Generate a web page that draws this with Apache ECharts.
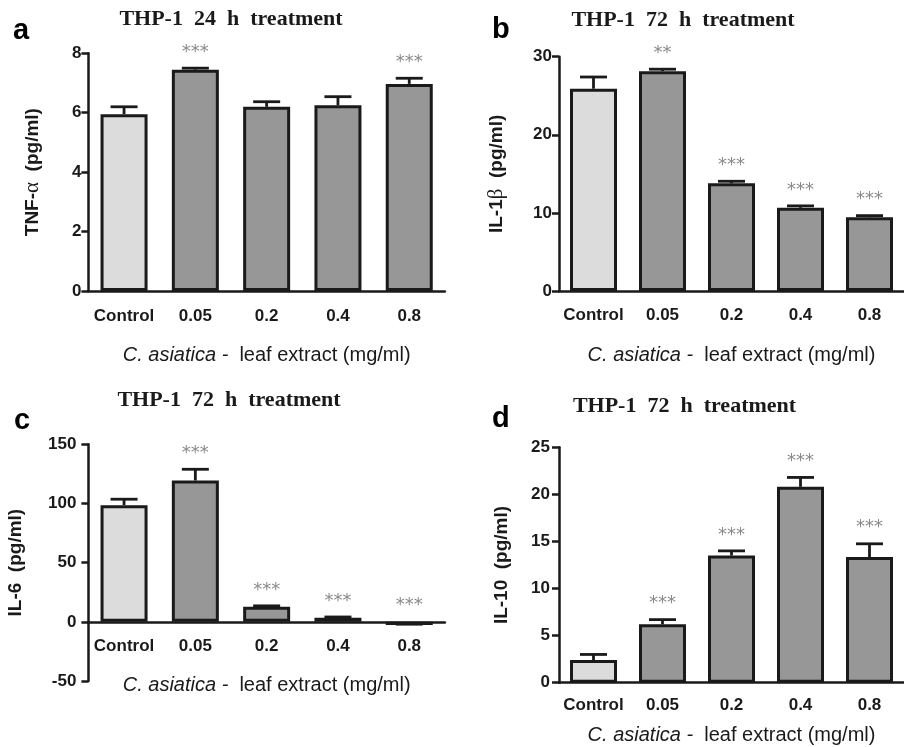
<!DOCTYPE html>
<html>
<head>
<meta charset="utf-8">
<script src="https://cdn.jsdelivr.net/npm/echarts@6/dist/echarts.min.js"></script>
<style>
html,body{margin:0;padding:0;background:#fff;}
#chart{width:904px;height:747px;}
</style>
</head>
<body>
<div id="chart"></div>
<script>
const categories = ['Control', '0.05', '0.2', '0.4', '0.8'];

const tnfMean = [5.95, 7.45, 6.2, 6.25, 6.97];
const tnfErr = [0.25, 0.05, 0.17, 0.29, 0.19];
const tnfStars = ['', '***', '', '', '***'];
const tnfTicks = [0, 2, 4, 6, 8];

const il1bMean = [25.9, 28.15, 13.8, 10.65, 9.45];
const il1bErr = [1.5, 0.25, 0.25, 0.25, 0.2];
const il1bStars = ['', '**', '***', '***', '***'];
const il1bTicks = [0, 10, 20, 30];

const il6Mean = [98.6, 119.4, 12.7, 3.4, -2.6];
const il6Err = [5, 9.5, 0.8, 0.7, 0.6];
const il6Stars = ['', '***', '***', '***', '***'];
const il6Ticks = [-50, 0, 50, 100, 150];

const il10Mean = [2.4, 6.2, 13.5, 20.8, 13.35];
const il10Err = [0.6, 0.5, 0.5, 1.0, 1.4];
const il10Stars = ['', '***', '***', '***', '***'];
const il10Ticks = [0, 5, 10, 15, 20, 25];

const panelTitles = ['THP-1  24  h  treatment', 'THP-1  72  h  treatment', 'THP-1  72  h  treatment', 'THP-1  72  h  treatment'];
const panelLetters = ['a', 'b', 'c', 'd'];

const INK = '#1a1a1a';
const controlColor = '#dcdcdc';
const treatedColor = '#979797';
const H = 747;

const chart = echarts.init(document.getElementById('chart'), null, {renderer: 'canvas'});

const panels = [
  {mean: tnfMean, err: tnfErr, stars: tnfStars, ticks: tnfTicks, yname: [['b','TNF-'],['g','α'],['b','  (pg/ml)']],
   grid: {left: 88.4, right: 459.1, top: 53.3, bottom: 456}, labelMargin: 7, yGap: 45, xGap: 54, xLabMargin: 17},
  {mean: il1bMean, err: il1bErr, stars: il1bStars, ticks: il1bTicks, yname: [['b','IL-1'],['g','β'],['b','  (pg/ml)']],
   grid: {left: 559, right: -9, top: 56.7, bottom: 456}, labelMargin: 7, yGap: 52, xGap: 54, xLabMargin: 16},
  {mean: il6Mean, err: il6Err, stars: il6Stars, ticks: il6Ticks, yname: [['b','IL-6  (pg/ml)']],
   grid: {left: 88.4, right: 459.1, top: 444.3, bottom: 66}, labelMargin: 12, yGap: 63, xGap: 54, xLabMargin: 16},
  {mean: il10Mean, err: il10Err, stars: il10Stars, ticks: il10Ticks, yname: [['b','IL-10  (pg/ml)']],
   grid: {left: 559, right: -9, top: 447.3, bottom: 64.3}, labelMargin: 9, yGap: 48, xGap: 43, xLabMargin: 14}
];

const grids = [], xAxes = [], yAxes = [], series = [];

panels.forEach((p, k) => {
  grids.push(Object.assign({containLabel: false}, p.grid));
  const ymin = p.ticks[0], ymax = p.ticks[p.ticks.length - 1];
  const plotH = H - p.grid.top - p.grid.bottom;
  // place the category axis at value 0 (moves line, ticks and labels together)
  const zeroOffset = ymin < 0 ? -plotH * (0 - ymin) / (ymax - ymin) : 0;
  xAxes.push({
    type: 'category', gridIndex: k, data: categories,
    offset: zeroOffset,
    axisLine: {onZero: false, lineStyle: {color: INK, width: 2.5}},
    axisTick: {alignWithLabel: true, length: 7, lineStyle: {color: INK, width: 2.5}},
    axisLabel: {color: INK, fontFamily: 'Liberation Sans', fontWeight: 'bold', fontSize: 17, margin: p.xLabMargin, interval: 0},
    name: '{it|C. asiatica -}{n|  leaf extract (mg/ml)}',
    nameLocation: 'middle', nameGap: p.xGap,
    nameTextStyle: {rich: {
      it: {fontFamily: 'Liberation Sans', fontStyle: 'italic', fontSize: 20, color: INK},
      n: {fontFamily: 'Liberation Sans', fontSize: 20, color: INK}
    }}
  });
  const rich = {
    b: {fontFamily: 'Liberation Sans', fontWeight: 'bold', fontSize: 19, color: INK},
    g: {fontFamily: 'Liberation Serif', fontSize: 21, color: INK}
  };
  yAxes.push({
    type: 'value', gridIndex: k,
    min: ymin, max: ymax, interval: p.ticks[1] - p.ticks[0],
    splitLine: {show: false},
    axisLine: {show: true, onZero: false, lineStyle: {color: INK, width: 2.5}},
    axisTick: {show: true, length: 7, lineStyle: {color: INK, width: 2.5}},
    axisLabel: {color: INK, fontFamily: 'Liberation Sans', fontWeight: 'bold', fontSize: 17, margin: p.labelMargin},
    name: p.yname.map(s => '{' + s[0] + '|' + s[1] + '}').join(''),
    nameLocation: 'middle', nameGap: p.yGap,
    nameTextStyle: {rich: rich}
  });
  series.push({
    type: 'bar', xAxisIndex: k, yAxisIndex: k, barWidth: 47,
    data: p.mean.map((v, i) => ({value: v, itemStyle: {color: i === 0 ? controlColor : treatedColor}})),
    itemStyle: {borderColor: INK, borderWidth: 3},
    animation: false, z: 2
  });
  series.push({
    type: 'custom', xAxisIndex: k, yAxisIndex: k,
    data: p.mean.map((v, i) => [i, v, p.err[i]]),
    encode: {x: 0, y: 1},
    z: 3, animation: false, clip: false,
    renderItem: function (params, api) {
      const i = api.value(0), m = api.value(1), e = api.value(2);
      const b = api.coord([i, m]);
      const t = api.coord([i, m + e]);
      const a = api.coord([i, Math.max(m + e, 0)]);
      const half = 13.5;
      const st = {stroke: INK, lineWidth: 2.8};
      const star = p.stars[params.dataIndex];
      const children = [
        {type: 'line', shape: {x1: b[0], y1: b[1], x2: t[0], y2: t[1]}, style: st},
        {type: 'line', shape: {x1: t[0] - half, y1: t[1], x2: t[0] + half, y2: t[1]}, style: st}
      ];
      if (star) {
        children.push({type: 'text', x: a[0], y: a[1] - 16, style: {
          text: star, fill: '#8a8a8a', font: '18px "DejaVu Sans"', align: 'center', verticalAlign: 'middle'
        }});
      }
      return {type: 'group', children: children};
    }
  });
});

const titlePos = [[231, 19], [683, 20], [229, 400], [684.5, 406]];
const letterPos = [[13, 31], [492, 30], [14, 421], [492, 419]];
const graphics = [];
titlePos.forEach((pos, k) => {
  graphics.push({type: 'text', x: pos[0], y: pos[1], style: {
    text: panelTitles[k], fill: INK, font: 'bold 22px "Liberation Serif"', align: 'center', verticalAlign: 'middle'
  }});
  graphics.push({type: 'text', x: letterPos[k][0], y: letterPos[k][1], style: {
    text: panelLetters[k], fill: '#000', font: 'bold 29px "Liberation Sans"', align: 'left', verticalAlign: 'middle'
  }});
});

chart.setOption({
  animation: false,
  backgroundColor: '#fff',
  grid: grids, xAxis: xAxes, yAxis: yAxes, series: series,
  graphic: graphics
});
</script>
</body>
</html>
